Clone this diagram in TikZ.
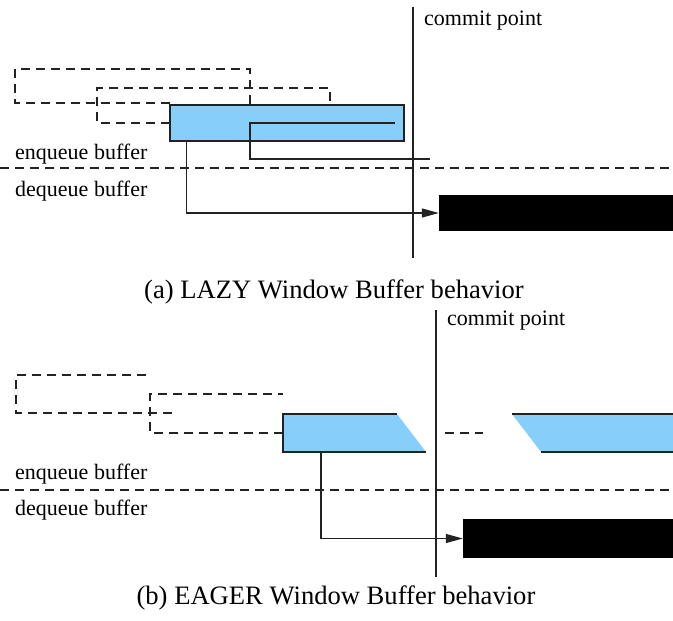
\documentclass[tikz,border=0pt]{standalone}
\usepackage{fontspec}
\setmainfont{Liberation Serif}
\usetikzlibrary{arrows.meta}
\definecolor{winblue}{HTML}{87CEFA}
\definecolor{linegray}{HTML}{222222}
\tikzset{
  ln/.style={draw=linegray, line width=1.2pt},
  dsh/.style={draw=linegray, line width=1.2pt, dash pattern=on 9pt off 6pt},
  bluebox/.style={ln, fill=winblue, inner sep=0pt, minimum width=234pt, minimum height=36pt},
  blackbox/.style={fill=black, draw=none, inner sep=0pt},
  lbl/.style={font=\fontsize{22}{26}\selectfont, inner sep=0pt, anchor=base west},
  captext/.style={font=\fontsize{26.6}{30}\selectfont, inner sep=0pt, anchor=base},
  arr/.style={ln, -{Triangle[length=17pt,width=9pt]}}
}
\begin{document}
\begin{tikzpicture}[x=1pt,y=-1pt]
\useasboundingbox (0,0) rectangle (673,621);
% ---------------- (a) ----------------
\draw[dsh] (170,103) -- (15,103) -- (15,69) -- (250,69) -- (250,105);
\draw[dsh] (170,123) -- (97,123) -- (97,88) -- (330,88) -- (330,105);
\node[bluebox] (blueA) at (287,123) {};
\coordinate (inA1) at (395,123);
\coordinate (inA2) at (430,159);
\draw[ln] (inA1) -- (250,123) -- (250,159) -- (inA2);
\draw[dsh] (0,168) -- (673,168);
\node[blackbox, minimum width=234pt, minimum height=36pt] (blackA) at (556,213) {};
\coordinate (cpA1) at (413,7);
\coordinate (cpA2) at (413,258);
\draw[ln] (cpA1) -- (cpA2);
\draw[arr] ([xshift=17pt]blueA.south west) |- (blackA.west);
\node[lbl] (cpAt) at (424,25) {commit point};
\node[lbl] (enqA) at (15,159) {enqueue buffer};
\node[lbl] (deqA) at (15,196) {dequeue buffer};
\node[captext] (capA) at (334,298) {(a) LAZY Window Buffer behavior};
% ---------------- (b) ----------------
\draw[dsh] (172,413) -- (16,413) -- (16,375) -- (150,375);
\draw[dsh] (283,433) -- (150,433) -- (150,394) -- (283,394);
\draw[dsh] (445,433) -- (483,433);
\fill[winblue] (283,414) -- (397,414) -- (426,452) -- (283,452) -- cycle;
\draw[ln] (397,414) -- (283,414) -- (283,452) -- (426,452);
\coordinate (pB) at (321,452);
\fill[winblue] (512,414) -- (673,414) -- (673,452) -- (541,452) -- cycle;
\draw[ln] (512,414) -- (673,414);
\draw[ln] (541,452) -- (673,452);
\draw[dsh] (0,490) -- (673,490);
\node[blackbox, minimum width=210pt, minimum height=39pt] (blackB) at (568,538.5) {};
\coordinate (cpB1) at (436,310);
\coordinate (cpB2) at (436,577);
\draw[ln] (cpB1) -- (cpB2);
\draw[arr] (pB) |- (blackB.west);
\node[lbl] (cpBt) at (447,325) {commit point};
\node[lbl] (enqB) at (15,479) {enqueue buffer};
\node[lbl] (deqB) at (15,515) {dequeue buffer};
\node[captext] (capB) at (336,604) {(b) EAGER Window Buffer behavior};
\end{tikzpicture}
\end{document}
